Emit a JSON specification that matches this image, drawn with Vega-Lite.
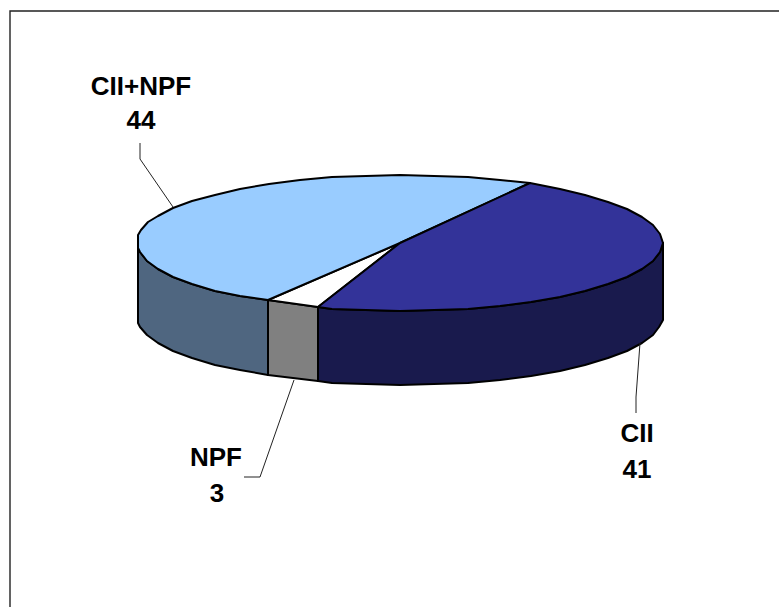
{"$schema":"https://vega.github.io/schema/vega-lite/v6.json","width":779,"height":607,"autosize":"none","padding":0,"background":"white","view":{"stroke":null},
"datasets":{"shapes":[
{"part":"a-side-cii+npf","i":0,"x":138,"y":248},{"part":"a-side-cii+npf","i":1,"x":140,"y":252},{"part":"a-side-cii+npf","i":2,"x":147,"y":261},{"part":"a-side-cii+npf","i":3,"x":158,"y":269},{"part":"a-side-cii+npf","i":4,"x":173,"y":277},{"part":"a-side-cii+npf","i":5,"x":192,"y":284},{"part":"a-side-cii+npf","i":6,"x":215,"y":291},{"part":"a-side-cii+npf","i":7,"x":240,"y":296},{"part":"a-side-cii+npf","i":8,"x":268,"y":300},{"part":"a-side-cii+npf","i":9,"x":268,"y":375},{"part":"a-side-cii+npf","i":10,"x":240,"y":370},{"part":"a-side-cii+npf","i":11,"x":215,"y":365},{"part":"a-side-cii+npf","i":12,"x":192,"y":358},{"part":"a-side-cii+npf","i":13,"x":173,"y":351},{"part":"a-side-cii+npf","i":14,"x":158,"y":343},{"part":"a-side-cii+npf","i":15,"x":147,"y":335},{"part":"a-side-cii+npf","i":16,"x":140,"y":327},{"part":"a-side-cii+npf","i":17,"x":138,"y":323},{"part":"a-side-cii+npf","i":18,"x":138,"y":248},
{"part":"b-side-npf","i":0,"x":268,"y":300},{"part":"b-side-npf","i":1,"x":318,"y":307},{"part":"b-side-npf","i":2,"x":318,"y":381},{"part":"b-side-npf","i":3,"x":268,"y":375},{"part":"b-side-npf","i":4,"x":268,"y":300},
{"part":"c-side-cii","i":0,"x":318,"y":307},{"part":"c-side-cii","i":1,"x":332,"y":309},{"part":"c-side-cii","i":2,"x":366,"y":310},{"part":"c-side-cii","i":3,"x":400,"y":311},{"part":"c-side-cii","i":4,"x":434,"y":310},{"part":"c-side-cii","i":5,"x":468,"y":309},{"part":"c-side-cii","i":6,"x":500,"y":306},{"part":"c-side-cii","i":7,"x":531,"y":302},{"part":"c-side-cii","i":8,"x":560,"y":297},{"part":"c-side-cii","i":9,"x":585,"y":291},{"part":"c-side-cii","i":10,"x":608,"y":284},{"part":"c-side-cii","i":11,"x":627,"y":277},{"part":"c-side-cii","i":12,"x":642,"y":269},{"part":"c-side-cii","i":13,"x":653,"y":261},{"part":"c-side-cii","i":14,"x":660,"y":252},{"part":"c-side-cii","i":15,"x":663,"y":243},{"part":"c-side-cii","i":16,"x":663,"y":320},{"part":"c-side-cii","i":17,"x":659,"y":327},{"part":"c-side-cii","i":18,"x":653,"y":335},{"part":"c-side-cii","i":19,"x":642,"y":343},{"part":"c-side-cii","i":20,"x":627,"y":351},{"part":"c-side-cii","i":21,"x":608,"y":358},{"part":"c-side-cii","i":22,"x":585,"y":365},{"part":"c-side-cii","i":23,"x":560,"y":371},{"part":"c-side-cii","i":24,"x":531,"y":376},{"part":"c-side-cii","i":25,"x":500,"y":380},{"part":"c-side-cii","i":26,"x":468,"y":383},{"part":"c-side-cii","i":27,"x":434,"y":384},{"part":"c-side-cii","i":28,"x":400,"y":385},{"part":"c-side-cii","i":29,"x":366,"y":384},{"part":"c-side-cii","i":30,"x":332,"y":383},{"part":"c-side-cii","i":31,"x":318,"y":381},{"part":"c-side-cii","i":32,"x":318,"y":307},
{"part":"d-top-npf","i":0,"x":400,"y":243},{"part":"d-top-npf","i":1,"x":268,"y":300},{"part":"d-top-npf","i":2,"x":318,"y":307},{"part":"d-top-npf","i":3,"x":400,"y":243},
{"part":"e-top-cii+npf","i":0,"x":400,"y":243},{"part":"e-top-cii+npf","i":1,"x":530,"y":183},{"part":"e-top-cii+npf","i":2,"x":500,"y":180},{"part":"e-top-cii+npf","i":3,"x":468,"y":177},{"part":"e-top-cii+npf","i":4,"x":434,"y":176},{"part":"e-top-cii+npf","i":5,"x":400,"y":175},{"part":"e-top-cii+npf","i":6,"x":366,"y":176},{"part":"e-top-cii+npf","i":7,"x":332,"y":177},{"part":"e-top-cii+npf","i":8,"x":300,"y":180},{"part":"e-top-cii+npf","i":9,"x":269,"y":184},{"part":"e-top-cii+npf","i":10,"x":240,"y":189},{"part":"e-top-cii+npf","i":11,"x":215,"y":195},{"part":"e-top-cii+npf","i":12,"x":192,"y":201},{"part":"e-top-cii+npf","i":13,"x":173,"y":208},{"part":"e-top-cii+npf","i":14,"x":158,"y":216},{"part":"e-top-cii+npf","i":15,"x":148,"y":222},{"part":"e-top-cii+npf","i":16,"x":141,"y":230},{"part":"e-top-cii+npf","i":17,"x":138,"y":235},{"part":"e-top-cii+npf","i":18,"x":138,"y":248},{"part":"e-top-cii+npf","i":19,"x":140,"y":252},{"part":"e-top-cii+npf","i":20,"x":147,"y":261},{"part":"e-top-cii+npf","i":21,"x":158,"y":269},{"part":"e-top-cii+npf","i":22,"x":173,"y":277},{"part":"e-top-cii+npf","i":23,"x":192,"y":284},{"part":"e-top-cii+npf","i":24,"x":215,"y":291},{"part":"e-top-cii+npf","i":25,"x":240,"y":296},{"part":"e-top-cii+npf","i":26,"x":268,"y":300},{"part":"e-top-cii+npf","i":27,"x":400,"y":243},
{"part":"f-top-cii","i":0,"x":400,"y":243},{"part":"f-top-cii","i":1,"x":318,"y":307},{"part":"f-top-cii","i":2,"x":332,"y":309},{"part":"f-top-cii","i":3,"x":366,"y":310},{"part":"f-top-cii","i":4,"x":400,"y":311},{"part":"f-top-cii","i":5,"x":434,"y":310},{"part":"f-top-cii","i":6,"x":468,"y":309},{"part":"f-top-cii","i":7,"x":500,"y":306},{"part":"f-top-cii","i":8,"x":531,"y":302},{"part":"f-top-cii","i":9,"x":560,"y":297},{"part":"f-top-cii","i":10,"x":585,"y":291},{"part":"f-top-cii","i":11,"x":608,"y":284},{"part":"f-top-cii","i":12,"x":627,"y":277},{"part":"f-top-cii","i":13,"x":642,"y":269},{"part":"f-top-cii","i":14,"x":653,"y":261},{"part":"f-top-cii","i":15,"x":660,"y":252},{"part":"f-top-cii","i":16,"x":663,"y":243},{"part":"f-top-cii","i":17,"x":660,"y":234},{"part":"f-top-cii","i":18,"x":653,"y":225},{"part":"f-top-cii","i":19,"x":642,"y":217},{"part":"f-top-cii","i":20,"x":627,"y":209},{"part":"f-top-cii","i":21,"x":608,"y":202},{"part":"f-top-cii","i":22,"x":585,"y":195},{"part":"f-top-cii","i":23,"x":560,"y":189},{"part":"f-top-cii","i":24,"x":530,"y":183},{"part":"f-top-cii","i":25,"x":400,"y":243}
],
"leaders":[
{"part":"cii+npf","i":0,"x":140,"y":143},{"part":"cii+npf","i":1,"x":140,"y":159},{"part":"cii+npf","i":2,"x":173,"y":207},
{"part":"npf","i":0,"x":244,"y":477},{"part":"npf","i":1,"x":260,"y":477},{"part":"npf","i":2,"x":294,"y":380},
{"part":"cii","i":0,"x":640,"y":343},{"part":"cii","i":1,"x":636,"y":397},{"part":"cii","i":2,"x":636,"y":413}
],
"frame":[{"part":"frame","i":0,"x":10,"y":607},{"part":"frame","i":1,"x":10,"y":11},{"part":"frame","i":2,"x":779,"y":11}],
"labels":[
{"label":"CII+NPF","x":141,"y":87},{"label":"44","x":141,"y":121},
{"label":"NPF","x":216,"y":458},{"label":"3","x":217,"y":494},
{"label":"CII","x":637,"y":434},{"label":"41","x":637,"y":470}
]},
"layer":[
{"data":{"name":"frame"},"mark":{"type":"line","stroke":"#222222","strokeWidth":1.4},
"encoding":{"x":{"field":"x","type":"quantitative","scale":{"domain":[0,779]},"axis":null},"y":{"field":"y","type":"quantitative","scale":{"domain":[607,0]},"axis":null},"order":{"field":"i","type":"quantitative"}}},
{"data":{"name":"shapes"},"mark":{"type":"line","stroke":"#000000","strokeWidth":2,"strokeJoin":"round","clip":false},
"encoding":{"x":{"field":"x","type":"quantitative","scale":{"domain":[0,779]},"axis":null},"y":{"field":"y","type":"quantitative","scale":{"domain":[607,0]},"axis":null},"order":{"field":"i","type":"quantitative"},"detail":{"field":"part","type":"nominal"},
"fill":{"field":"part","type":"nominal","legend":null,"scale":{"domain":["a-side-cii+npf","b-side-npf","c-side-cii","d-top-npf","e-top-cii+npf","f-top-cii"],"range":["#4F6680","#808080","#191A4D","#FFFFFF","#99CCFF","#333399"]}}}},
{"data":{"name":"leaders"},"mark":{"type":"line","stroke":"#222222","strokeWidth":1},
"encoding":{"x":{"field":"x","type":"quantitative","scale":{"domain":[0,779]},"axis":null},"y":{"field":"y","type":"quantitative","scale":{"domain":[607,0]},"axis":null},"order":{"field":"i","type":"quantitative"},"detail":{"field":"part","type":"nominal"}}},
{"data":{"name":"labels"},"mark":{"type":"text","font":"Liberation Sans","fontWeight":"bold","fontSize":26,"color":"#000000","align":"center","baseline":"middle"},
"encoding":{"x":{"field":"x","type":"quantitative","scale":{"domain":[0,779]},"axis":null},"y":{"field":"y","type":"quantitative","scale":{"domain":[607,0]},"axis":null},"text":{"field":"label","type":"nominal"}}}
]}
